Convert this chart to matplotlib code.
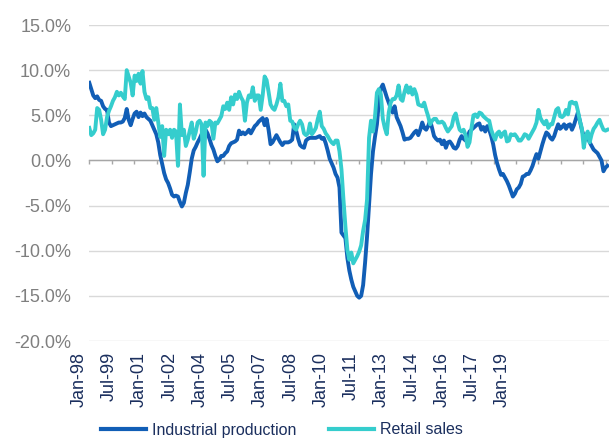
import numpy as np
import matplotlib
matplotlib.use("Agg")
import matplotlib.pyplot as plt
from matplotlib.lines import Line2D

# 同比增速 (%), 月度, 1998-01 .. 2019-12
ip_by_year = [
    [8.6, 7.9, 7.2, 6.9, 7.1, 6.7, 6.6, 6.0, 5.7, 5.6, 4.2, 3.8],          # 1998
    [3.9, 4.0, 4.1, 4.2, 4.2, 4.3, 4.7, 5.7, 4.5, 3.9, 4.6, 5.2],          # 1999
    [5.4, 4.8, 5.3, 4.9, 5.2, 4.8, 4.6, 4.4, 3.9, 3.4, 2.9, 2.0],          # 2000
    [0.6, -0.4, -1.4, -2.1, -2.5, -3.1, -3.8, -4.0, -3.9, -4.0, -4.6, -5.1],  # 2001
    [-4.7, -3.6, -2.7, -1.3, 0.2, 1.1, 1.5, 2.0, 2.4, 2.9, 3.3, 3.4],      # 2002
    [3.0, 2.4, 1.7, 1.2, 0.5, -0.1, 0.1, 0.5, 0.5, 0.8, 1.0, 1.6],         # 2003
    [1.9, 2.0, 2.1, 2.3, 3.3, 2.9, 3.1, 2.9, 3.1, 3.4, 3.0, 3.4],          # 2004
    [3.8, 4.0, 4.3, 4.5, 4.7, 3.9, 4.6, 3.4, 1.8, 2.0, 2.4, 2.8],          # 2005
    [2.4, 2.0, 1.7, 2.0, 2.0, 2.0, 2.1, 2.3, 4.0, 3.3, 2.4, 1.7],          # 2006
    [1.5, 1.4, 2.2, 2.4, 2.5, 2.5, 2.5, 2.5, 2.6, 2.7, 2.4, 2.5],          # 2007
    [1.9, 1.1, 0.2, -0.3, -0.8, -1.5, -1.9, -3.0, -8.0, -8.3, -8.6, -10.8],  # 2008
    [-12.2, -13.2, -14.0, -14.5, -15.0, -15.2, -15.0, -13.8, -11.3, -8.4, -5.0, -1.5],  # 2009
    [1.0, 2.6, 4.0, 6.5, 8.0, 8.4, 7.7, 7.0, 6.4, 5.8, 5.3, 6.0],          # 2010
    [4.8, 4.3, 3.8, 3.1, 2.3, 2.4, 2.4, 2.5, 2.8, 3.1, 3.3, 2.8],          # 2011
    [3.4, 4.2, 3.6, 3.4, 3.8, 4.4, 3.6, 2.7, 2.4, 2.2, 2.3, 1.8],          # 2012
    [2.2, 1.4, 2.0, 2.1, 1.8, 1.4, 1.3, 1.6, 2.3, 2.7, 2.4, 2.2],          # 2013
    [2.6, 3.2, 3.4, 3.6, 3.8, 4.0, 4.1, 3.4, 3.7, 3.2, 3.8, 3.4],          # 2014
    [2.7, 1.8, 0.6, -0.3, -1.0, -1.6, -1.5, -1.9, -2.3, -2.8, -3.4, -4.0],  # 2015
    [-3.7, -3.2, -3.0, -2.6, -1.8, -1.7, -1.5, -1.5, -1.1, -0.6, 0.1, 0.7],  # 2016
    [0.2, 1.0, 1.8, 2.5, 3.1, 2.9, 2.5, 2.3, 2.7, 3.4, 4.0, 3.5],          # 2017
    [3.7, 4.0, 3.5, 3.9, 4.0, 3.4, 3.9, 4.6, 5.3, 4.4, 3.4, 2.7],          # 2018
    [2.3, 2.6, 2.0, 1.6, 1.2, 1.0, 0.8, 0.4, 0.0, -1.2, -0.8, -0.6],       # 2019
]

retail_by_year = [
    [3.6, 2.8, 3.0, 3.4, 5.8, 5.6, 4.5, 2.9, 3.4, 4.8, 5.5, 6.0],          # 1998
    [6.6, 7.0, 7.6, 7.2, 7.5, 7.1, 6.8, 10.0, 9.3, 8.6, 7.2, 9.4],         # 1999
    [8.8, 9.6, 8.5, 9.9, 7.6, 6.8, 7.0, 5.8, 5.8, 4.5, 5.8, 4.2],          # 2000
    [2.6, 3.8, 0.5, 3.4, 2.9, 3.4, 2.5, 3.4, 3.2, -0.6, 6.2, 2.8],         # 2001
    [3.4, 1.6, 2.3, 3.3, 4.2, 2.4, 3.1, 4.2, 4.4, 4.0, -1.7, 4.2],         # 2002
    [3.8, 4.4, 4.2, 2.4, 4.2, 4.1, 4.5, 4.9, 6.0, 5.7, 6.4, 5.6],          # 2003
    [7.0, 6.2, 7.3, 6.8, 7.6, 7.0, 6.6, 4.4, 6.4, 7.2, 7.0, 8.1],          # 2004
    [6.6, 7.2, 7.2, 5.6, 7.2, 9.3, 8.9, 7.6, 6.2, 5.8, 5.6, 6.2],          # 2005
    [7.0, 8.5, 6.6, 6.6, 6.0, 6.2, 4.4, 4.3, 3.6, 3.4, 4.0, 4.4],          # 2006
    [4.0, 3.0, 2.8, 3.0, 4.1, 2.9, 3.2, 3.6, 4.6, 5.4, 3.8, 3.5],          # 2007
    [3.0, 2.7, 2.3, 2.0, 1.8, 2.2, 2.2, 1.0, -1.0, -4.3, -7.3, -9.9],      # 2008
    [-11.0, -10.2, -11.4, -11.0, -10.6, -10.1, -9.4, -7.8, -6.6, -4.3, 2.5, 4.4],  # 2009
    [3.2, 4.8, 7.5, 7.9, 7.3, 4.6, 3.6, 2.9, 5.3, 6.4, 6.8, 6.8],          # 2010
    [7.2, 8.3, 6.8, 6.6, 7.6, 8.3, 7.5, 8.1, 7.3, 7.9, 7.3, 6.2],          # 2011
    [6.1, 6.0, 6.4, 5.6, 4.9, 4.0, 4.4, 4.6, 4.6, 4.2, 4.2, 4.3],          # 2012
    [4.1, 3.6, 3.2, 3.5, 3.8, 4.8, 5.2, 4.2, 3.4, 3.2, 3.4, 2.8],          # 2013
    [1.5, 2.0, 3.6, 5.0, 5.1, 4.8, 5.3, 5.2, 4.9, 4.7, 4.5, 4.4],          # 2014
    [3.4, 2.8, 2.3, 3.0, 3.2, 2.6, 3.0, 3.2, 2.1, 2.2, 2.9, 2.8],          # 2015
    [2.9, 2.6, 2.2, 2.2, 2.5, 2.9, 2.8, 2.4, 2.8, 3.2, 3.6, 4.2],          # 2016
    [5.6, 4.7, 4.3, 4.0, 4.4, 3.6, 4.0, 4.0, 4.8, 5.6, 5.8, 4.9],          # 2017
    [4.8, 5.0, 5.6, 5.1, 6.4, 6.5, 6.3, 6.4, 5.5, 4.4, 3.6, 1.4],          # 2018
    [2.7, 3.2, 2.0, 2.9, 3.5, 3.8, 4.2, 4.5, 3.9, 3.4, 3.3, 3.4],          # 2019
]

x_labels = ["Jan-98", "Jul-99", "Jan-01", "Jul-02", "Jan-04", "Jul-05", "Jan-07",
            "Jul-08", "Jan-10", "Jul-11", "Jan-13", "Jul-14", "Jan-16", "Jul-17", "Jan-19"]
y_ticks = [-20, -15, -10, -5, 0, 5, 10, 15]
series_names = ["Industrial production", "Retail sales"]

ip = np.concatenate(ip_by_year)
retail = np.concatenate(retail_by_year)
months = np.arange(len(ip))

C_IP = "#115EB6"
C_RS = "#35CDCD"
NAVY = "#1B2F5E"
GREY = "#7F7F7F"
FONT = ["Liberation Sans", "DejaVu Sans"]

fig = plt.figure(figsize=(6.09, 4.41), dpi=100)
ax = fig.add_axes([89.3 / 609, 1 - 341 / 441, (609 - 89.3) / 609, 316 / 441])

ax.plot(months, ip, color=C_IP, lw=2.8, solid_joinstyle="round", zorder=3)
ax.plot(months, retail, color=C_RS, lw=2.8, solid_joinstyle="round", zorder=4)

ax.set_xlim(0, (609 - 89.3) / 1.97)
ax.set_ylim(-20, 15)
ax.set_yticks(y_ticks)
ax.set_yticklabels([f"{v:.1f}%" for v in y_ticks], fontsize=13, color=GREY, family=FONT)
ax.tick_params(axis="y", length=0, pad=13)
ax.grid(axis="y", color="#D9D9D9", lw=1.0, zorder=0)

for s in ["top", "right", "left"]:
    ax.spines[s].set_visible(False)
ax.spines["bottom"].set_position(("data", 0))
ax.spines["bottom"].set_color("#A6A6A6")
ax.spines["bottom"].set_linewidth(1.0)
ax.spines["bottom"].set_zorder(2)

# 刻度线 (不带标签), 间距同原图
ax.set_xticks(np.arange(0, 264, 11.4))
ax.tick_params(axis="x", direction="out", length=3.2, width=1.0, color="#A6A6A6",
               labelbottom=False)

# 日期标签放在图底 (位置照原图, 与刻度不对齐)
trans = ax.get_xaxis_transform()
for k, lab in enumerate(x_labels):
    ax.text(-5.23 + 15.36 * k, -0.035, lab, transform=trans, rotation=90,
            ha="center", va="top", fontsize=13, color=NAVY, clip_on=False, family=FONT)

handles = [Line2D([0], [0], color=C_IP, lw=3), Line2D([0], [0], color=C_RS, lw=3)]
fig.legend(handles, series_names, loc="center left", bbox_to_anchor=(101 / 609, 1 - 430 / 441),
           bbox_transform=fig.transFigure, ncol=2, frameon=False, borderpad=0,
           borderaxespad=0, handlelength=2.8, handletextpad=0.38, columnspacing=2.05,
           prop={"family": FONT, "size": 11.5}, labelcolor=NAVY)

fig.savefig("out.png", dpi=100)
